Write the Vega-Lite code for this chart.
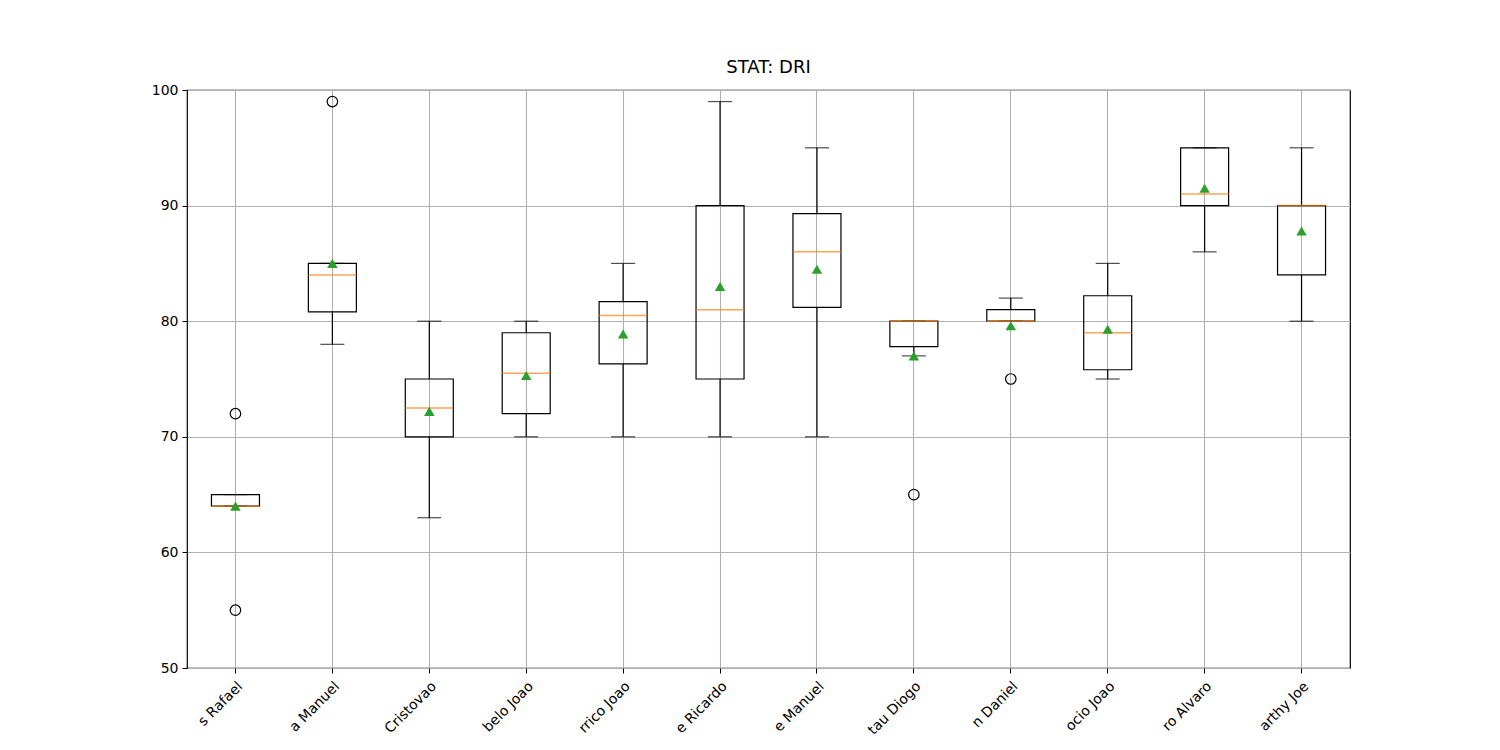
{
"$schema":"https://vega.github.io/schema/vega-lite/v6.json",
"autosize":{"type":"none"},
"padding":{"left":187,"top":90,"right":150,"bottom":82},
"width":1163,"height":578,
"background":"white",
"title":{"text":"STAT: DRI","fontSize":18,"font":"DejaVu Sans","fontWeight":"normal","offset":6},
"config":{"view":{"stroke":"black","strokeWidth":1.2},"axis":{"labelFont":"DejaVu Sans","labelFontSize":14,"labelColor":"black","tickColor":"black","domain":false,"gridColor":"#b0b0b0","gridWidth":1.1,"tickSize":5,"title":null}},
"datasets":{
"b":[
{"p":"s Rafael","lo":64,"q1":64,"med":64,"q3":65,"hi":65,"mean":64},
{"p":"a Manuel","lo":78,"q1":80.8,"med":84,"q3":85,"hi":85,"mean":85},
{"p":"Cristovao","lo":63,"q1":70,"med":72.5,"q3":75,"hi":80,"mean":72.2},
{"p":"belo Joao","lo":70,"q1":72,"med":75.5,"q3":79,"hi":80,"mean":75.3},
{"p":"rrico Joao","lo":70,"q1":76.3,"med":80.5,"q3":81.7,"hi":85,"mean":78.9},
{"p":"e Ricardo","lo":70,"q1":75,"med":81,"q3":90,"hi":99,"mean":83},
{"p":"e Manuel","lo":70,"q1":81.2,"med":86,"q3":89.3,"hi":95,"mean":84.5},
{"p":"tau Diogo","lo":77,"q1":77.8,"med":80,"q3":80,"hi":80,"mean":77},
{"p":"n Daniel","lo":80,"q1":80,"med":80,"q3":81,"hi":82,"mean":79.6},
{"p":"ocio Joao","lo":75,"q1":75.8,"med":79,"q3":82.2,"hi":85,"mean":79.3},
{"p":"ro Alvaro","lo":86,"q1":90,"med":91,"q3":95,"hi":95,"mean":91.5},
{"p":"arthy Joe","lo":80,"q1":84,"med":90,"q3":90,"hi":95,"mean":87.8}],
"o":[{"p":"s Rafael","v":72},{"p":"s Rafael","v":55},{"p":"a Manuel","v":99},{"p":"tau Diogo","v":65},{"p":"n Daniel","v":75}]
},
"encoding":{
"x":{"field":"p","type":"nominal","sort":null,"scale":{"paddingInner":0,"paddingOuter":0},"axis":{"labelAngle":-45,"labelAlign":"right","labelBaseline":"top","grid":true,"labelPadding":6,"labelDx":48}},
"y":{"type":"quantitative"}
},
"layer":[
{"data":{"name":"b"},"mark":{"type":"rule","color":"black","strokeWidth":1.2},"encoding":{"y":{"field":"lo","type":"quantitative","scale":{"domain":[50,100],"nice":false,"zero":false},"axis":{"grid":true,"values":[50,60,70,80,90,100],"labelPadding":4}},"y2":{"field":"q1"}}},
{"data":{"name":"b"},"mark":{"type":"rule","color":"black","strokeWidth":1.2},"encoding":{"y":{"field":"q3","type":"quantitative"},"y2":{"field":"hi"}}},
{"data":{"name":"b"},"mark":{"type":"bar","fill":null,"fillOpacity":0,"stroke":"black","strokeWidth":1.2,"width":48},"encoding":{"y":{"field":"q1","type":"quantitative"},"y2":{"field":"q3"}}},
{"data":{"name":"b"},"mark":{"type":"tick","color":"black","size":24,"thickness":1.2},"encoding":{"y":{"field":"lo","type":"quantitative"}}},
{"data":{"name":"b"},"mark":{"type":"tick","color":"black","size":24,"thickness":1.2},"encoding":{"y":{"field":"hi","type":"quantitative"}}},
{"data":{"name":"b"},"mark":{"type":"tick","color":"#ff7f0e","size":48,"thickness":1.5},"encoding":{"y":{"field":"med","type":"quantitative"}}},
{"data":{"name":"b"},"mark":{"type":"point","shape":"triangle-up","filled":true,"color":"#2ca02c","size":110,"opacity":1},"encoding":{"y":{"field":"mean","type":"quantitative"}}},
{"data":{"name":"o"},"mark":{"type":"point","shape":"circle","filled":false,"color":"black","size":110,"strokeWidth":1.2,"opacity":1},"encoding":{"y":{"field":"v","type":"quantitative"}}}
]
}
